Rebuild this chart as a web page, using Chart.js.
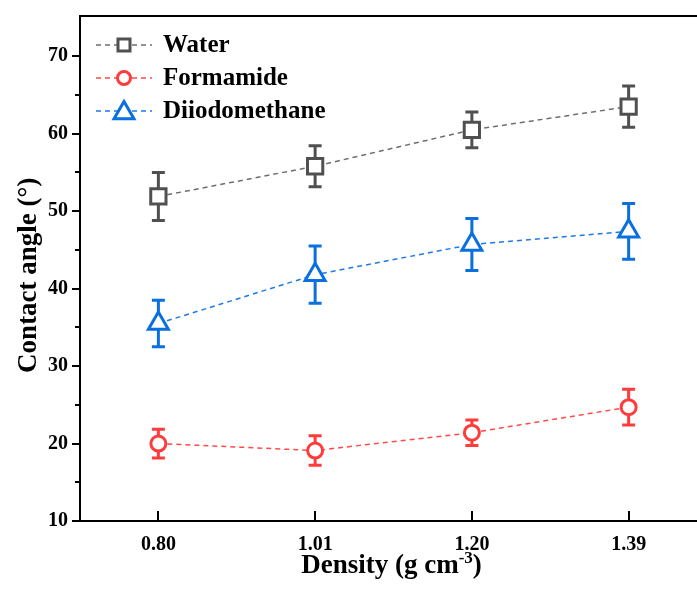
<!DOCTYPE html>
<html>
<head>
<meta charset="utf-8">
<script src="https://cdn.jsdelivr.net/npm/chart.js@4.4.0/dist/chart.umd.min.js"></script>
<style>
  html, body { margin: 0; padding: 0; background: #fff; overflow: hidden; }
  #wrap { width: 697px; height: 589px; overflow: hidden; }
  canvas { display: block; }
</style>
</head>
<body>
<div id="wrap"><canvas id="myChart" width="707" height="589"></canvas></div>
<script>
const densities = ["0.80", "1.01", "1.20", "1.39"];

const water = [51.9, 55.8, 60.5, 63.5];
const waterErr = [3.1, 2.65, 2.3, 2.65];

const formamide = [20.0, 19.1, 21.4, 24.7];
const formamideErr = [1.85, 1.9, 1.65, 2.3];

const diiodomethane = [35.5, 41.8, 45.7, 47.4];
const diiodomethaneErr = [3.0, 3.7, 3.35, 3.6];

const yTicks = [10, 20, 30, 40, 50, 60, 70];
const yMinorTicks = [15, 25, 35, 45, 55, 65];

const serif = "'Liberation Serif', 'Times New Roman', serif";

// error bars drawn under the markers
const errorBars = {
  id: "errorBars",
  beforeDatasetsDraw(chart) {
    const { ctx, scales: { y } } = chart;
    chart.data.datasets.forEach((ds, i) => {
      const meta = chart.getDatasetMeta(i);
      ctx.save();
      ctx.strokeStyle = ds.pointBorderColor;
      ctx.lineWidth = 3;
      meta.data.forEach((pt, j) => {
        const top = y.getPixelForValue(ds.data[j] + ds.errors[j]);
        const bot = y.getPixelForValue(ds.data[j] - ds.errors[j]);
        ctx.beginPath();
        ctx.moveTo(pt.x, top);
        ctx.lineTo(pt.x, bot);
        ctx.moveTo(pt.x - 6.5, top);
        ctx.lineTo(pt.x + 6.5, top);
        ctx.moveTo(pt.x - 6.5, bot);
        ctx.lineTo(pt.x + 6.5, bot);
        ctx.stroke();
      });
      ctx.restore();
    });
  },
};

// top frame line, tick marks (y outward with minors, x inward), x title with superscript
const frameTicks = {
  id: "frameTicks",
  afterDraw(chart) {
    const { ctx, chartArea: a, scales: { x, y } } = chart;
    ctx.save();
    ctx.strokeStyle = "#000";
    ctx.lineWidth = 2;
    ctx.beginPath();
    ctx.moveTo(a.left - 1, a.top);
    ctx.lineTo(a.right, a.top);
    yTicks.forEach((v) => {
      const py = Math.round(y.getPixelForValue(v));
      ctx.moveTo(a.left, py);
      ctx.lineTo(a.left - 8, py);
    });
    yMinorTicks.forEach((v) => {
      const py = Math.round(y.getPixelForValue(v));
      ctx.moveTo(a.left, py);
      ctx.lineTo(a.left - 5, py);
    });
    densities.forEach((d, i) => {
      const px = Math.round(x.getPixelForValue(i));
      ctx.moveTo(px, a.bottom);
      ctx.lineTo(px, a.bottom - 10);
    });
    ctx.stroke();

    // "Density (g cm-3)" with a raised -3
    const main = "bold 27px " + serif;
    const sup = "bold 17px " + serif;
    const parts = [["Density (g cm", main, 0], ["-3", sup, -10], [")", main, 0]];
    let w = 0;
    parts.forEach(([t, f]) => { ctx.font = f; w += ctx.measureText(t).width; });
    let px = (a.left + a.right) / 2 - w / 2 - 2;
    ctx.fillStyle = "#000";
    ctx.textBaseline = "alphabetic";
    ctx.textAlign = "left";
    parts.forEach(([t, f, dy]) => {
      ctx.font = f;
      ctx.fillText(t, px, 573 + dy);
      px += ctx.measureText(t).width;
    });
    ctx.restore();
  },
};

// legend inside the plot: dashed line + marker + label
const lineLegend = {
  id: "lineLegend",
  afterDraw(chart) {
    const { ctx, chartArea: a } = chart;
    ctx.save();
    chart.data.datasets.forEach((ds, i) => {
      const cy = a.top + 29 + i * 33;
      const x0 = a.left + 16;
      const x1 = a.left + 72;
      const mx = a.left + 44;
      ctx.strokeStyle = ds.borderColor;
      ctx.lineWidth = 1.5;
      ctx.setLineDash(ds.borderDash);
      ctx.beginPath();
      ctx.moveTo(x0, cy);
      ctx.lineTo(x1, cy);
      ctx.stroke();
      ctx.setLineDash([]);
      ctx.fillStyle = "#fff";
      ctx.strokeStyle = ds.pointBorderColor;
      ctx.lineWidth = 3;
      Chart.helpers.drawPoint(ctx, {
        pointStyle: ds.pointStyle,
        radius: ds.legendRadius,
        rotation: 0,
        borderWidth: 3,
      }, mx, ds.pointStyle === "triangle" ? cy + 2 : cy);
      ctx.fillStyle = "#000";
      ctx.font = "bold 25px " + serif;
      ctx.textBaseline = "middle";
      ctx.textAlign = "left";
      ctx.fillText(ds.label, a.left + 83, cy + 1);
    });
    ctx.restore();
  },
};

const noPad = (scale) => {
  scale.paddingTop = 0;
  scale.paddingBottom = 0;
  scale.paddingLeft = 0;
  scale.paddingRight = 0;
};

const chart = new Chart(document.getElementById("myChart").getContext("2d"), {
  type: "line",
  data: {
    labels: densities,
    datasets: [
      {
        label: "Water",
        data: water,
        errors: waterErr,
        borderColor: "#6e6e6e",
        borderWidth: 1.5,
        borderDash: [5, 4],
        pointStyle: "rect",
        pointRadius: 10.8,
        legendRadius: 8.5,
        pointBorderWidth: 3,
        pointBorderColor: "#505050",
        pointBackgroundColor: "#fff",
      },
      {
        label: "Formamide",
        data: formamide,
        errors: formamideErr,
        borderColor: "#ff4a4a",
        borderWidth: 1.5,
        borderDash: [5, 4],
        pointStyle: "circle",
        pointRadius: 7.5,
        legendRadius: 6.5,
        pointBorderWidth: 3,
        pointBorderColor: "#ff3b3b",
        pointBackgroundColor: "#fff",
      },
      {
        label: "Diiodomethane",
        data: diiodomethane,
        errors: diiodomethaneErr,
        borderColor: "#1f7ae6",
        borderWidth: 1.5,
        borderDash: [5, 4],
        pointStyle: "triangle",
        pointRadius: 11.5,
        legendRadius: 11.5,
        pointBorderWidth: 3,
        pointBorderColor: "#0a6fdf",
        pointBackgroundColor: "#fff",
      },
    ],
  },
  options: {
    responsive: false,
    animation: false,
    events: [],
    layout: { autoPadding: false, padding: { top: 16, right: 0, left: 0, bottom: 0 } },
    plugins: {
      legend: { display: false },
      tooltip: { enabled: false },
    },
    scales: {
      x: {
        type: "category",
        offset: true,
        grid: { display: false, drawTicks: false },
        border: { display: true, color: "#000", width: 2 },
        ticks: {
          color: "#000",
          padding: 12,
          maxRotation: 0,
          font: { family: serif, size: 20, weight: "bold" },
        },
        title: { display: false },
        afterFit: (scale) => { scale.height = 68; noPad(scale); },
      },
      y: {
        min: 10,
        max: 75.2,
        grid: { display: false, drawTicks: false },
        border: { display: true, color: "#000", width: 2 },
        afterBuildTicks: (scale) => {
          scale.ticks = yTicks.map((v) => ({ value: v }));
        },
        ticks: {
          color: "#000",
          padding: 12,
          font: { family: serif, size: 20, weight: "bold" },
        },
        title: {
          display: true,
          text: "Contact angle (\u00B0)\u2002",
          color: "#000",
          padding: { top: 13, bottom: 0 },
          font: { family: serif, size: 27, weight: "bold" },
        },
        afterFit: (scale) => { scale.width = 80; noPad(scale); },
      },
    },
  },
  plugins: [errorBars, frameTicks, lineLegend],
});
</script>
</body>
</html>
